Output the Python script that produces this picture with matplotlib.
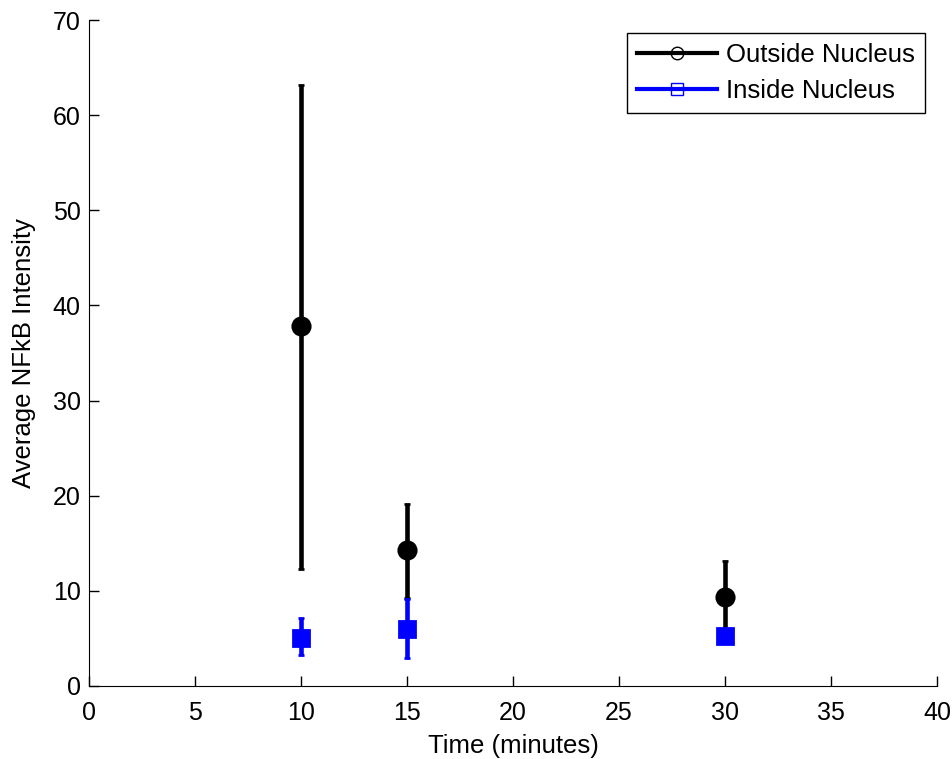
import matplotlib.pyplot as plt
import numpy as np

plt.rcParams['font.family'] = ['Liberation Sans', 'DejaVu Sans']

# Данні
time = [10, 15, 30]
outside_mean = [37.8, 14.3, 9.35]
outside_low = [12.3, 9.3, 5.6]
outside_high = [63.2, 19.1, 13.1]
inside_mean = [5.05, 6.0, 5.25]
inside_low = [3.3, 2.9, 4.8]
inside_high = [7.1, 9.1, 5.7]

fig = plt.figure(figsize=(9.53, 7.59), dpi=100)
ax = fig.add_axes([0.0934, 0.0962, 0.8898, 0.8774])

om = np.array(outside_mean)
im = np.array(inside_mean)
oerr = [om - np.array(outside_low), np.array(outside_high) - om]
ierr = [im - np.array(inside_low), np.array(inside_high) - im]

ax.errorbar(time, om, yerr=oerr, fmt='o', color='black', ecolor='black',
            elinewidth=3.3, capsize=2, capthick=3.3, markersize=12.5,
            markeredgewidth=2, zorder=2)
ax.errorbar(time, im, yerr=ierr, fmt='s', color='blue', ecolor='blue',
            elinewidth=3.3, capsize=2, capthick=3.3, markersize=12,
            markeredgewidth=2, zorder=3)

# Легенда: лінії з порожніми маркерами
h1, = ax.plot([], [], color='black', lw=3, marker='o', mfc='none', mec='black',
              markersize=9, mew=1)
h2, = ax.plot([], [], color='blue', lw=3, marker='s', mfc='none', mec='blue',
              markersize=9, mew=1)
leg = ax.legend([h1, h2], ['Outside Nucleus', 'Inside Nucleus'],
                loc='upper right', bbox_to_anchor=(0.9858, 0.9805),
                borderaxespad=0, fontsize=18.5, handlelength=3.1,
                handletextpad=0.35, borderpad=0.4, labelspacing=0.45,
                fancybox=False, framealpha=1, edgecolor='black')
leg.get_frame().set_linewidth(1)

ax.set_xlim(0, 40)
ax.set_ylim(0, 70)
ax.set_xticks(np.arange(0, 41, 5))
ax.set_yticks(np.arange(0, 71, 10))
ax.tick_params(direction='in', length=7, labelsize=18, width=1)
ax.tick_params(axis='x', pad=11)
ax.tick_params(axis='y', pad=6)
ax.spines['top'].set_visible(False)
ax.spines['right'].set_visible(False)
ax.set_xlabel('Time (minutes)', fontsize=18.5, labelpad=6)
ax.set_ylabel('Average NFkB Intensity', fontsize=18.5, labelpad=12)

fig.savefig('out.png', dpi=100)
